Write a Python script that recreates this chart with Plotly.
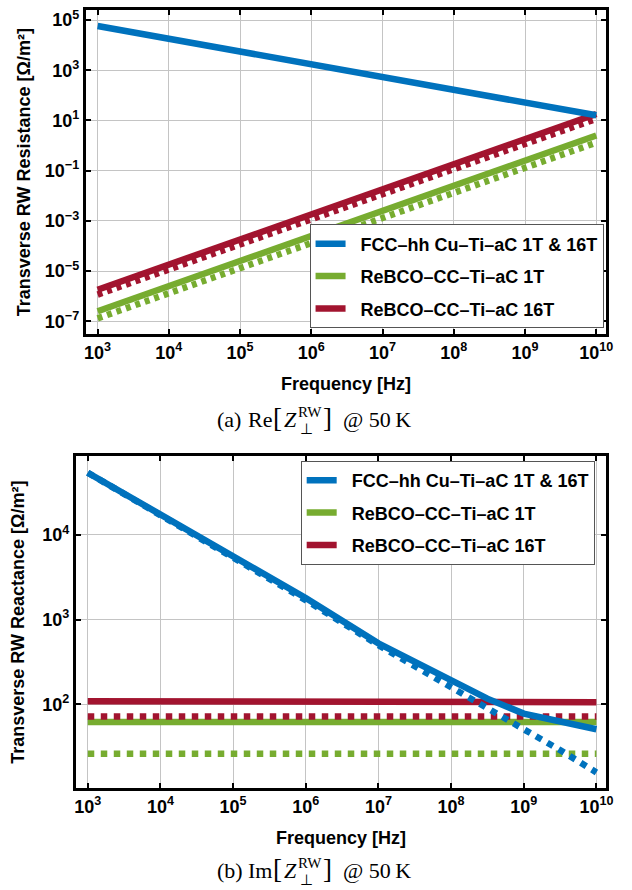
import plotly.graph_objects as go

W, H = 632, 890

# ---------------- data ----------------
freq_a = [1e3, 1e4, 1e5, 1e6, 1e7, 1e8, 1e9, 1e10]
re_cu = [5.8e4, 1.8e4, 5.5e3, 1.7e3, 5.2e2, 1.6e2, 50, 16]
re_16T_solid = [1.8e-6, 1.8e-5, 1.8e-4, 1.8e-3, 1.8e-2, 0.18, 1.8, 18]
re_16T_dot = [1.15e-6, 1.15e-5, 1.15e-4, 1.15e-3, 1.15e-2, 0.115, 1.15, 11.5]
re_1T_solid = [2.5e-7, 2.5e-6, 2.5e-5, 2.5e-4, 2.5e-3, 2.5e-2, 0.25, 2.5]
re_1T_dot = [1.3e-7, 1.3e-6, 1.3e-5, 1.3e-4, 1.3e-3, 1.3e-2, 0.13, 1.3]

freq_b = [1e3, 1e4, 1e5, 1e6, 1e7, 3.16e7, 1e8, 3.16e8, 1e9, 3.16e9, 1e10]
im_cu_solid = [5.4e4, 1.75e4, 5.5e3, 1.8e3, 5.25e2, 3.16e2, 1.9e2, 1.17e2, 78, 62, 51]
im_cu_dot = [5.4e4, 1.7e4, 5.4e3, 1.7e3, 5.0e2, 2.8e2, 1.58e2, 91, 51, 29, 15.8]
im_16T_solid = [109, 109, 109, 109, 109, 109, 109, 108, 108, 107, 106]
im_16T_dot = [72, 72, 72, 72, 72, 72, 72, 72, 72, 72, 72]
im_1T_solid = [62, 62, 62, 62, 62, 62, 62, 62, 62, 62, 62]
im_1T_dot = [26.3, 26.3, 26.3, 26.3, 26.3, 26.3, 26.3, 26.3, 26.3, 26.3, 26.3]

names = ["FCC\u2013hh Cu\u2013Ti\u2013aC 1T & 16T", "ReBCO\u2013CC\u2013Ti\u2013aC 1T", "ReBCO\u2013CC\u2013Ti\u2013aC 16T"]

x_tickvals = [1e3, 1e4, 1e5, 1e6, 1e7, 1e8, 1e9, 1e10]
x_ticktext = ["10<sup>3</sup>", "10<sup>4</sup>", "10<sup>5</sup>", "10<sup>6</sup>", "10<sup>7</sup>",
              "10<sup>8</sup>", "10<sup>9</sup>", "10<sup>10</sup>"]
ya_tickvals = [1e5, 1e3, 1e1, 1e-1, 1e-3, 1e-5, 1e-7]
ya_ticktext = ["10<sup>5</sup>", "10<sup>3</sup>", "10<sup>1</sup>", "10<sup>\u22121</sup>",
               "10<sup>\u22123</sup>", "10<sup>\u22125</sup>", "10<sup>\u22127</sup>"]
yb_tickvals = [1e4, 1e3, 1e2]
yb_ticktext = ["10<sup>4</sup>", "10<sup>3</sup>", "10<sup>2</sup>"]

BLUE = "#0072BD"
GREEN = "#77AC30"
RED = "#A2142F"

def px(x):
    return x / W

def py(y):
    return 1 - y / H

fig = go.Figure()

LW = 6.5
PAD = "\u00a0\u00a0"

# ---------- top panel ----------
fig.add_trace(go.Scatter(x=freq_a, y=re_1T_solid, mode="lines", line=dict(color=GREEN, width=LW),
                         name=PAD + names[1], legend="legend", legendgroup="a2", legendrank=2, xaxis="x", yaxis="y"))
fig.add_trace(go.Scatter(x=freq_a, y=re_1T_dot, mode="lines", line=dict(color=GREEN, width=LW, dash="5px,5px"),
                         showlegend=False, xaxis="x", yaxis="y"))
fig.add_trace(go.Scatter(x=freq_a, y=re_16T_solid, mode="lines", line=dict(color=RED, width=LW),
                         name=PAD + names[2], legend="legend", legendgroup="a3", legendrank=3, xaxis="x", yaxis="y"))
fig.add_trace(go.Scatter(x=freq_a, y=re_16T_dot, mode="lines", line=dict(color=RED, width=LW, dash="5px,5px"),
                         showlegend=False, xaxis="x", yaxis="y"))
fig.add_trace(go.Scatter(x=freq_a, y=re_cu, mode="lines", line=dict(color=BLUE, width=LW),
                         name=PAD + names[0], legend="legend", legendgroup="a1", legendrank=1, xaxis="x", yaxis="y"))

# ---------- bottom panel ----------
fig.add_trace(go.Scatter(x=freq_b, y=im_1T_solid, mode="lines", line=dict(color=GREEN, width=LW),
                         name=PAD + names[1], legend="legend2", legendgroup="b2", legendrank=2, xaxis="x2", yaxis="y2"))
fig.add_trace(go.Scatter(x=freq_b, y=im_1T_dot, mode="lines", line=dict(color=GREEN, width=LW, dash="dot"),
                         showlegend=False, xaxis="x2", yaxis="y2"))
fig.add_trace(go.Scatter(x=freq_b, y=im_16T_solid, mode="lines", line=dict(color=RED, width=LW),
                         name=PAD + names[2], legend="legend2", legendgroup="b3", legendrank=3, xaxis="x2", yaxis="y2"))
fig.add_trace(go.Scatter(x=freq_b, y=im_16T_dot, mode="lines", line=dict(color=RED, width=LW, dash="dot"),
                         showlegend=False, xaxis="x2", yaxis="y2"))
fig.add_trace(go.Scatter(x=freq_b, y=im_cu_solid, mode="lines", line=dict(color=BLUE, width=LW),
                         name=PAD + names[0], legend="legend2", legendgroup="b1", legendrank=1, xaxis="x2", yaxis="y2"))
fig.add_trace(go.Scatter(x=freq_b, y=im_cu_dot, mode="lines", line=dict(color=BLUE, width=LW, dash="dot"),
                         showlegend=False, xaxis="x2", yaxis="y2"))

axis_common = dict(
    type="log", showline=True, linecolor="black", linewidth=3, mirror="ticks",
    ticks="inside", ticklen=5, tickwidth=2, tickcolor="black",
    showgrid=True, gridcolor="#c4c4c4", gridwidth=1.2, zeroline=False,
    tickfont=dict(size=18, family="Liberation Sans", color="black", weight="bold"),
)

title_font = dict(size=18, family="Liberation Sans", color="black", weight="bold")
legend_font = dict(size=18, family="Liberation Sans", color="black", weight="bold")

fig.update_layout(
    width=W, height=H,
    margin=dict(l=0, r=0, t=0, b=0),
    paper_bgcolor="white", plot_bgcolor="white",
    font=dict(family="Liberation Sans", size=17, color="black", weight="bold"),
    xaxis=dict(axis_common, domain=[px(85), px(613)], range=[2.834, 10.14], anchor="y",
               tickvals=x_tickvals, ticktext=x_ticktext,
               title=dict(text="Frequency [Hz]", font=title_font, standoff=16)),
    yaxis=dict(axis_common, domain=[py(333), py(8)], range=[-7.52, 5.4], anchor="x",
               tickvals=ya_tickvals, ticktext=ya_ticktext,
               title=dict(text="Transverse RW Resistance [\u03a9/m\u00b2]", font=title_font, standoff=10)),
    xaxis2=dict(axis_common, domain=[px(75), px(613)], range=[2.837, 10.136], anchor="y2",
                tickvals=x_tickvals, ticktext=x_ticktext,
                title=dict(text="Frequency [Hz]", font=title_font, standoff=16)),
    yaxis2=dict(axis_common, domain=[py(788), py(455)], range=[1.012, 4.93], anchor="x2",
                tickvals=yb_tickvals, ticktext=yb_ticktext,
                title=dict(text="Transverse RW Reactance [\u03a9/m\u00b2]", font=title_font, standoff=13)),
    legend=dict(x=px(312), y=py(223), xanchor="left", yanchor="top",
                bgcolor="white", bordercolor="#555555", borderwidth=1,
                font=legend_font, tracegroupgap=6, traceorder="grouped"),
    legend2=dict(x=px(303), y=py(460), xanchor="left", yanchor="top",
                 bgcolor="white", bordercolor="#555555", borderwidth=1,
                 font=legend_font, tracegroupgap=6, traceorder="grouped"),
    showlegend=True,
)

# ---------- captions ----------
cap_font = dict(family="Liberation Serif", size=22, color="black", weight="normal")
br_font = dict(family="Liberation Serif", size=27, color="black", weight="normal")
small_font = dict(family="Liberation Serif", size=15, color="black", weight="normal")

def caption(label, fn, y_main, y_sup, y_sub):
    def ann(x, y, text, font):
        fig.add_annotation(xref="paper", yref="paper", x=px(x), y=py(y), xanchor="left", yanchor="middle",
                           text=text, showarrow=False, font=font)
    ann(216, y_main, label, cap_font)
    ann(248, y_main, fn, cap_font)
    ann(273, y_main - 1, "[", br_font)
    ann(284, y_main, "<i>Z</i>", cap_font)
    ann(298, y_sup, "RW", small_font)
    ann(300, y_sub, "\u22a5", small_font)
    ann(324, y_main - 1, "]", br_font)
    ann(344, y_main, "@ 50\u2009K", cap_font)

caption("(a)", "Re", 418, 411, 428)
caption("(b)", "Im", 870, 863, 880)

fig.write_html("out.html", config={"displayModeBar": False},
               post_script="document.body.style.margin='0px';document.body.style.overflow='hidden';")
